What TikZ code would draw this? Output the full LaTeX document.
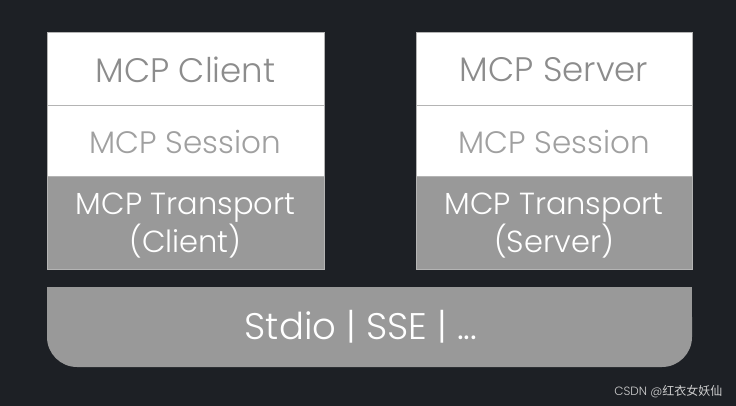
\documentclass[tikz,border=0pt]{standalone}
\usepackage{fontspec}
\setmainfont{Poppins}[UprightFont=* Light]
\newfontfamily\cjkfont{Noto Sans CJK SC}
\definecolor{bgc}{HTML}{1D2025}
\definecolor{fillg}{HTML}{999999}
\definecolor{txtg}{HTML}{8C8C8C}
\definecolor{txtl}{HTML}{A0A0A0}
\definecolor{edgeg}{HTML}{B4B4B4}
\definecolor{wmark}{HTML}{CFCFCF}
\begin{document}
\begin{tikzpicture}[x=1pt,y=-1pt,
  whitecell/.style={draw=edgeg,line width=1pt,fill=white},
  graycell/.style={draw=edgeg,line width=1pt,fill=fillg},
  toptext/.style={text=txtg,font=\fontsize{34}{38}\selectfont},
  midtext/.style={text=txtl,font=\fontsize{31}{34}\selectfont},
  bottext/.style={text=white,align=center,font=\fontsize{30.5}{38}\selectfont},
  bustext/.style={text=white,font=\fontsize{37}{40}\selectfont},
]
\fill[bgc] (0,0) rectangle (736,406);
\useasboundingbox (0,0) rectangle (736,406);
% left stack
\draw[whitecell] (47,33) rectangle (324,106);
\draw[whitecell] (47,106) rectangle (324,177);
\draw[graycell] (47,177) rectangle (324,269);
\node[toptext] (lc) at (185.5,70) {MCP Client};
\node[midtext] (ls) at (185.5,142) {MCP Session};
\node[bottext] (lt) at (185.5,226) {MCP Transport\\(Client)};
% right stack
\draw[whitecell] (416,33) rectangle (692,106);
\draw[whitecell] (416,106) rectangle (692,177);
\draw[graycell] (416,177) rectangle (692,269);
\node[toptext] (rc) at (554,70) {MCP Server};
\node[midtext] (rs) at (554,142) {MCP Session};
\node[bottext] (rt) at (554,226) {MCP Transport\\(Server)};
% bus
\fill[fillg,rounded corners=30pt] (47,287) -- (692,287) -- (692,367) -- (47,367) -- cycle;
\fill[fillg] (47,287) rectangle (692,320);
\node[bustext] (bus) at (361,327) {Stdio | SSE | ...};
% watermark
\node[text=wmark,anchor=east,font=\fontsize{12}{13}\selectfont] (wm) at (726,392) {CSDN @{\cjkfont 红衣女妖仙}};
\end{tikzpicture}
\end{document}
